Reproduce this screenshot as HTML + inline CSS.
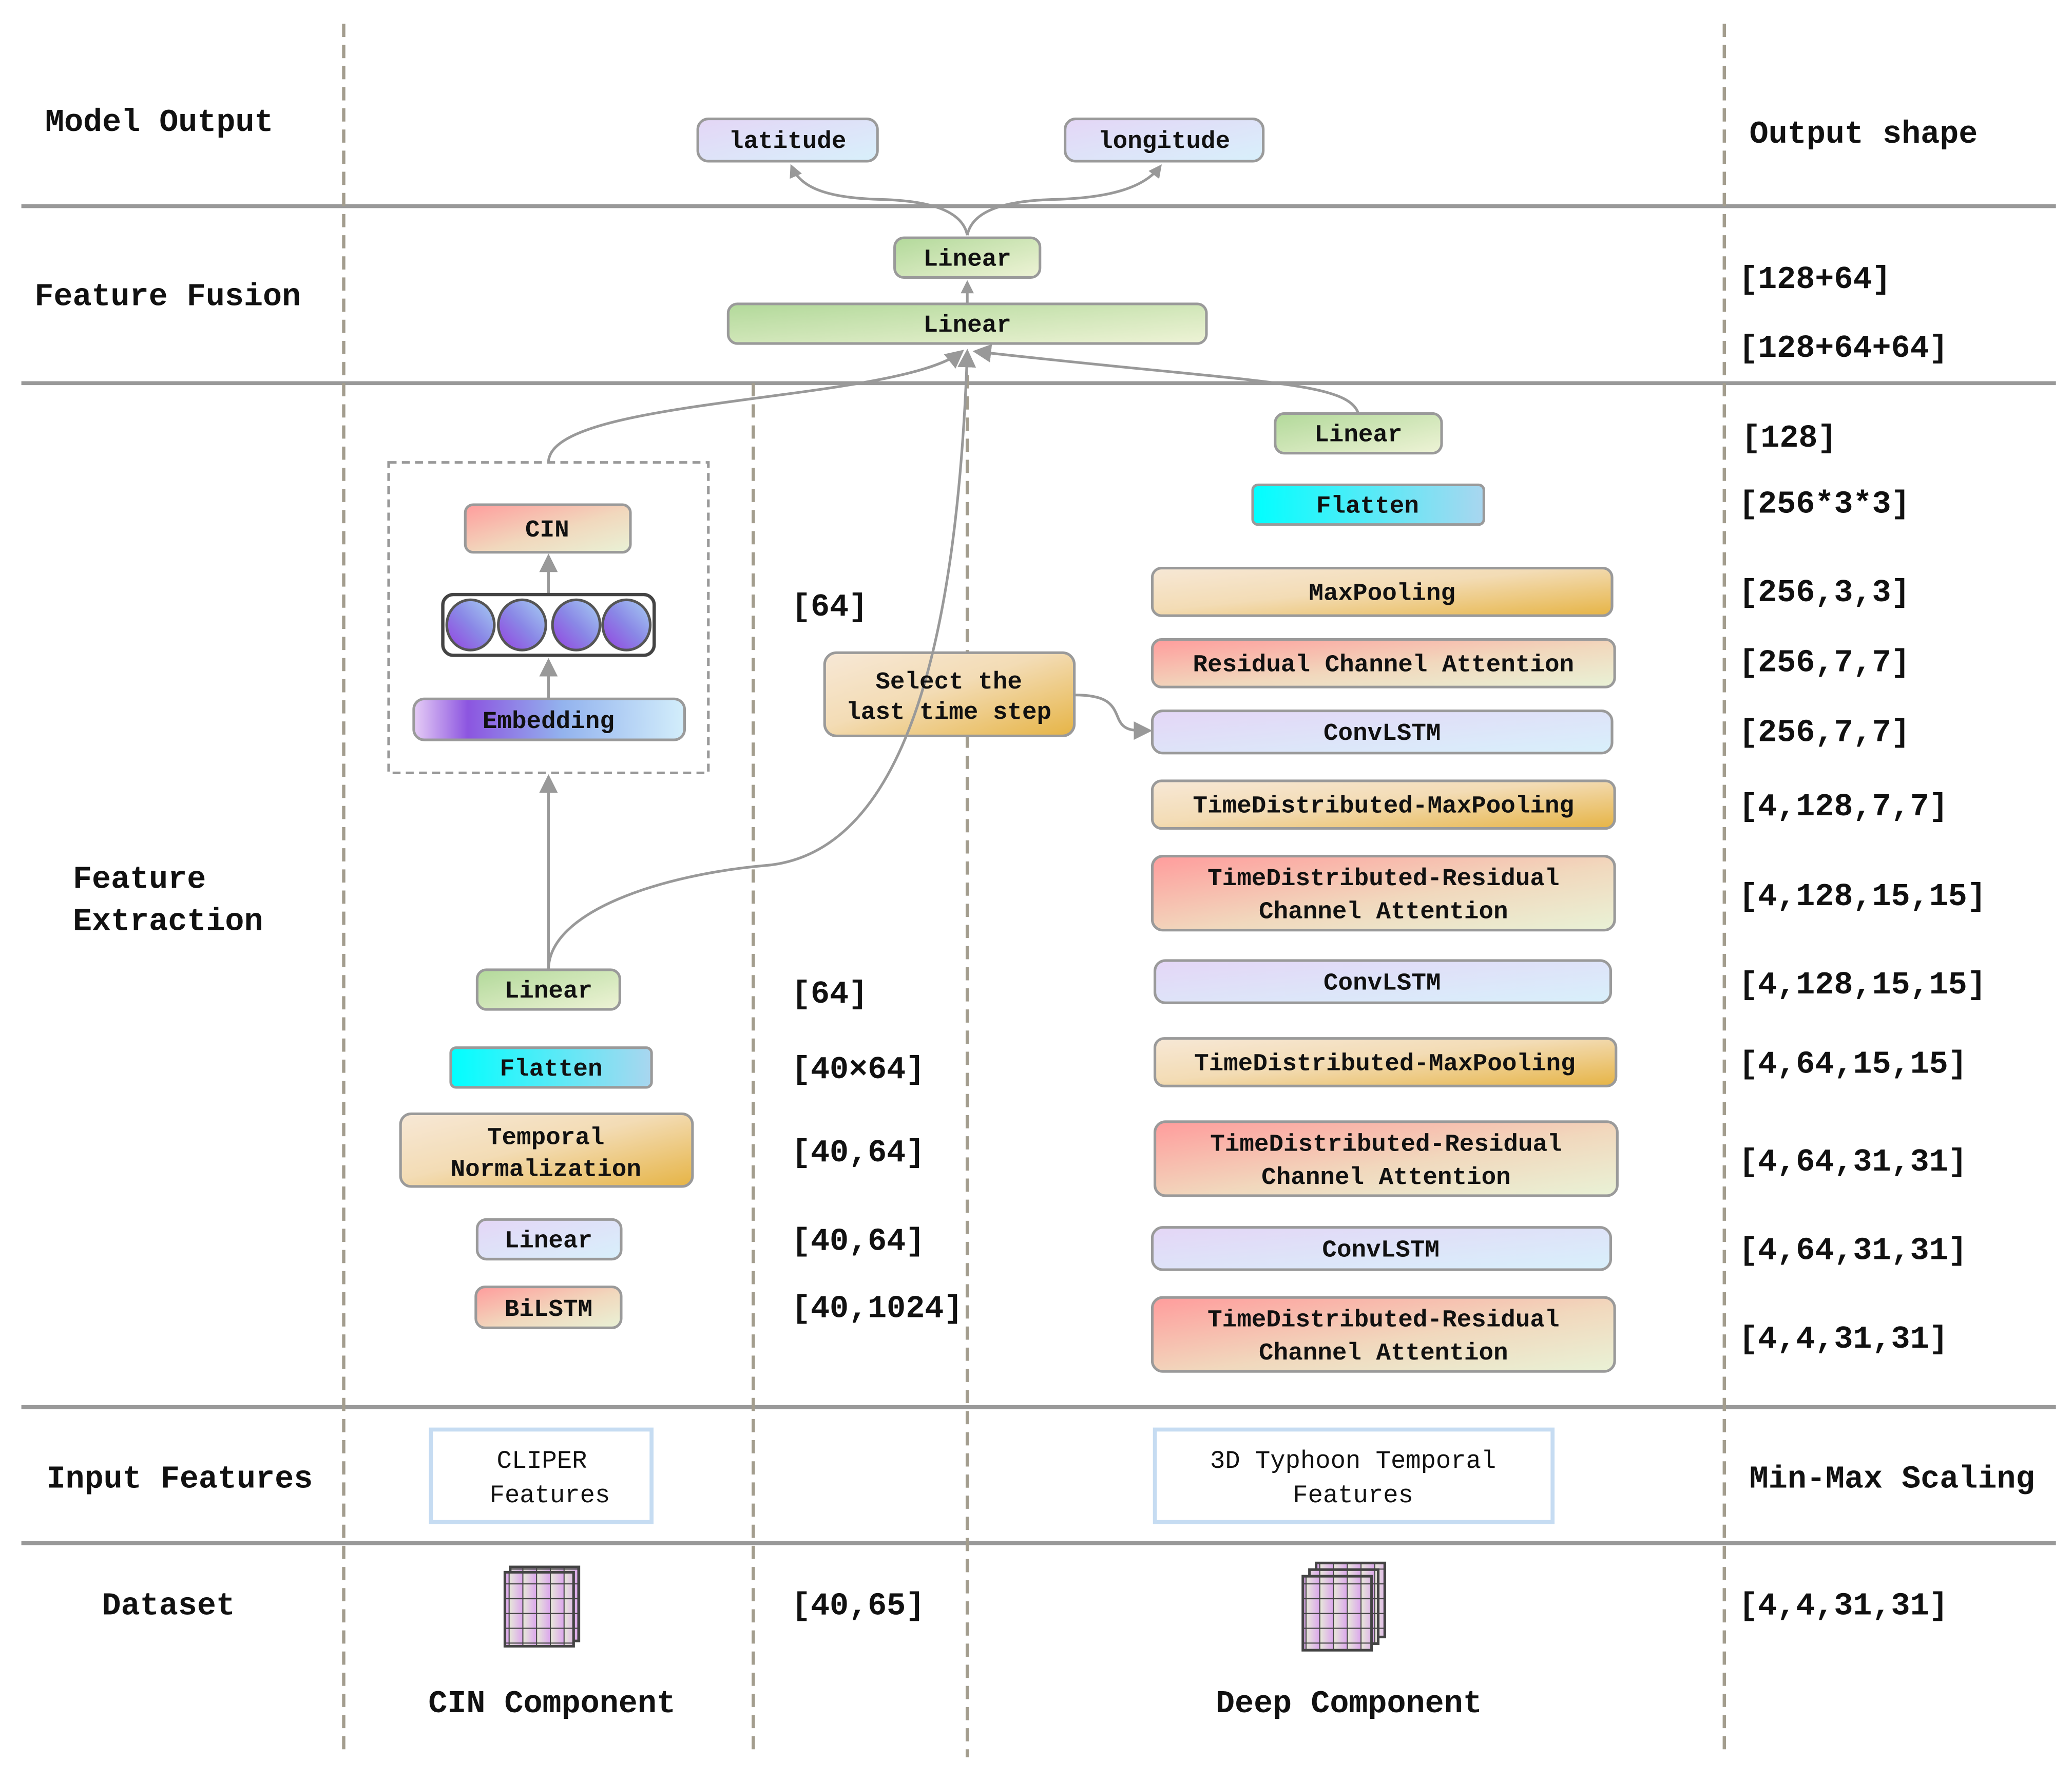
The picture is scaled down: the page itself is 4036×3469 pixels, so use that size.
<!DOCTYPE html>
<html><head><meta charset="utf-8"><style>
html,body{margin:0;padding:0;background:#fff}
svg{display:block}
text{font-family:"Liberation Mono",monospace;font-weight:bold;fill:#111}
.t{font-size:24px}
.b{font-size:18.5px}
.n{font-weight:normal;font-size:19px}
</style></head><body>
<svg width="4036" height="3469" viewBox="0 0 1568 1348" xmlns="http://www.w3.org/2000/svg">
<defs>
<linearGradient id="lav" x1="0" y1="0" x2="1" y2="1"><stop offset="0" stop-color="#e4d6f6"/><stop offset="1" stop-color="#d8f0fb"/></linearGradient>
<linearGradient id="grn" x1="0" y1="0" x2="1" y2="1"><stop offset="0" stop-color="#b2d99a"/><stop offset="1" stop-color="#eef3d6"/></linearGradient>
<linearGradient id="cyan" x1="0" y1="0" x2="1" y2="0"><stop offset="0" stop-color="#00ffff"/><stop offset="1" stop-color="#a9d6ef"/></linearGradient>
<linearGradient id="gold" x1="0" y1="0" x2="1" y2="1"><stop offset="0" stop-color="#f7e8d6"/><stop offset="0.45" stop-color="#f3dcb5"/><stop offset="1" stop-color="#e6b445"/></linearGradient>
<linearGradient id="red" x1="0" y1="0" x2="1" y2="1"><stop offset="0" stop-color="#ff9c9c"/><stop offset="0.55" stop-color="#f1d8bd"/><stop offset="1" stop-color="#e9f2d6"/></linearGradient>
<linearGradient id="emb" x1="0" y1="0" x2="1" y2="0"><stop offset="0" stop-color="#e6cdf6"/><stop offset="0.2" stop-color="#8c55e0"/><stop offset="0.55" stop-color="#93b3ee"/><stop offset="1" stop-color="#d3eefb"/></linearGradient>
<linearGradient id="ball" x1="1" y1="0" x2="0" y2="1"><stop offset="0" stop-color="#a8d0f4"/><stop offset="0.5" stop-color="#8a88e6"/><stop offset="1" stop-color="#9440e0"/></linearGradient>
<linearGradient id="cell" x1="0" y1="0" x2="1" y2="0"><stop offset="0" stop-color="#e8ecd8"/><stop offset="1" stop-color="#dca8ec"/></linearGradient>
<pattern id="grid" width="10.4" height="11.2" patternUnits="userSpaceOnUse"><rect width="10.4" height="11.2" fill="url(#cell)"/><path d="M0 0H10.4M0 0V11.2" stroke="#444" stroke-width="1.6"/></pattern>
<marker id="ah" markerWidth="10" markerHeight="10" refX="8" refY="5" orient="auto" markerUnits="userSpaceOnUse"><path d="M0,0 L10,5 L0,10 z" fill="#999"/></marker>
<marker id="ahb" markerWidth="14" markerHeight="14" refX="12" refY="7" orient="auto" markerUnits="userSpaceOnUse"><path d="M0,0 L14,7 L0,14 z" fill="#999"/></marker>
</defs>

<g stroke="#999" stroke-width="3">
<line x1="16" y1="156" x2="1556" y2="156"/><line x1="16" y1="290" x2="1556" y2="290"/>
<line x1="16" y1="1065" x2="1556" y2="1065"/><line x1="16" y1="1168" x2="1556" y2="1168"/>
</g>
<g stroke="#a39d8e" stroke-width="2.5" stroke-dasharray="10,6">
<line x1="260" y1="18" x2="260" y2="1330"/><line x1="570" y1="290" x2="570" y2="1330"/>
<line x1="732" y1="268" x2="732" y2="1330"/><line x1="1305" y1="18" x2="1305" y2="1330"/>
</g>

<g fill="none" stroke="#999" stroke-width="2">
<path d="M732,178 C728,158 700,152 668,151 C625,150 606,142 599,126" marker-end="url(#ah)"/>
<path d="M732,178 C736,158 764,152 796,151 C840,150 866,142 878,126" marker-end="url(#ah)"/>
<path d="M732,230 L732,214" marker-end="url(#ah)"/>
<path d="M415,350 C415,300 680,305 728,266" marker-end="url(#ahb)"/>
<path d="M1028,313 C1020,288 950,290 738,266" marker-end="url(#ahb)"/>
<path d="M415,734 L415,588" marker-end="url(#ahb)"/>
<path d="M415,529 L415,500" marker-end="url(#ahb)"/>
<path d="M415,450 L415,421" marker-end="url(#ahb)"/>
<path d="M813,526 C838,526 842,533 846,543 C850,553 856,553 870,553" marker-end="url(#ahb)"/>
</g>

<g stroke="#9a9a9a" stroke-width="2">
<rect x="528" y="90" width="136" height="32" rx="8" fill="url(#lav)"/>
<rect x="806" y="90" width="150" height="32" rx="8" fill="url(#lav)"/>
<rect x="677" y="180" width="110" height="30" rx="7" fill="url(#grn)"/>
<rect x="551" y="230" width="362" height="30" rx="7" fill="url(#grn)"/>
<rect x="965" y="313" width="126" height="30" rx="7" fill="url(#grn)"/>
<rect x="948" y="367" width="175" height="30" rx="4" fill="url(#cyan)"/>
<rect x="872" y="430" width="348" height="36" rx="7" fill="url(#gold)"/>
<rect x="872" y="484" width="350" height="36" rx="7" fill="url(#red)"/>
<rect x="872" y="538" width="348" height="32" rx="8" fill="url(#lav)"/>
<rect x="872" y="591" width="350" height="36" rx="7" fill="url(#gold)"/>
<rect x="872" y="648" width="350" height="56" rx="8" fill="url(#red)"/>
<rect x="874" y="727" width="345" height="32" rx="8" fill="url(#lav)"/>
<rect x="874" y="786" width="349" height="36" rx="7" fill="url(#gold)"/>
<rect x="874" y="849" width="350" height="56" rx="8" fill="url(#red)"/>
<rect x="872" y="929" width="347" height="32" rx="8" fill="url(#lav)"/>
<rect x="872" y="982" width="350" height="56" rx="8" fill="url(#red)"/>
<rect x="624" y="494" width="189" height="63" rx="9" fill="url(#gold)"/>
<rect x="352" y="382" width="125" height="36" rx="6" fill="url(#red)"/>
<rect x="313" y="529" width="205" height="31" rx="8" fill="url(#emb)"/>
<rect x="361" y="734" width="108" height="30" rx="7" fill="url(#grn)"/>
<rect x="341" y="793" width="152" height="30" rx="4" fill="url(#cyan)"/>
<rect x="303" y="843" width="221" height="55" rx="8" fill="url(#gold)"/>
<rect x="361" y="923" width="109" height="30" rx="7" fill="url(#lav)"/>
<rect x="360" y="974" width="110" height="31" rx="7" fill="url(#red)"/>
</g>
<rect x="294" y="350" width="242" height="235" fill="none" stroke="#999" stroke-width="2" stroke-dasharray="6,4"/>
<rect x="335" y="450" width="160" height="46" rx="8" fill="#fff" stroke="#444" stroke-width="2.5"/>
<g fill="url(#ball)" stroke="#555" stroke-width="2">
<ellipse cx="356" cy="473" rx="18" ry="19"/><ellipse cx="395" cy="473" rx="18" ry="19"/>
<ellipse cx="436" cy="473" rx="18" ry="19"/><ellipse cx="474" cy="473" rx="18" ry="19"/>
</g>
<rect x="326" y="1082" width="167" height="70" fill="#fff" stroke="#c6dcf2" stroke-width="3"/>
<rect x="874" y="1082" width="301" height="70" fill="#fff" stroke="#c6dcf2" stroke-width="3"/>

<path d="M415,734 C415,690 500,662 580,655 C690,645 725,470 732,266" fill="none" stroke="#999" stroke-width="2" marker-end="url(#ahb)"/>

<g stroke="#444" stroke-width="2">
<rect x="386" y="1186" width="52" height="56" fill="url(#grid)"/>
<rect x="382" y="1190" width="52" height="56" fill="url(#grid)"/>
<rect x="996" y="1183" width="52" height="56" fill="url(#grid)"/>
<rect x="991" y="1188" width="52" height="56" fill="url(#grid)"/>
<rect x="986" y="1193" width="52" height="56" fill="url(#grid)"/>
</g>

<g class="b" text-anchor="middle">
<text x="596" y="112">latitude</text>
<text x="881" y="112">longitude</text>
<text x="732" y="201">Linear</text>
<text x="732" y="251">Linear</text>
<text x="1028" y="334">Linear</text>
<text x="1035" y="388">Flatten</text>
<text x="1046" y="454">MaxPooling</text>
<text x="1047" y="508">Residual Channel Attention</text>
<text x="1046" y="560">ConvLSTM</text>
<text x="1047" y="615">TimeDistributed-MaxPooling</text>
<text x="1047" y="670">TimeDistributed-Residual</text>
<text x="1047" y="695">Channel Attention</text>
<text x="1046" y="749">ConvLSTM</text>
<text x="1048" y="810">TimeDistributed-MaxPooling</text>
<text x="1049" y="871">TimeDistributed-Residual</text>
<text x="1049" y="896">Channel Attention</text>
<text x="1045" y="951">ConvLSTM</text>
<text x="1047" y="1004">TimeDistributed-Residual</text>
<text x="1047" y="1029">Channel Attention</text>
<text x="718" y="521">Select the</text>
<text x="718" y="544">last time step</text>
<text x="414" y="406">CIN</text>
<text x="415" y="551">Embedding</text>
<text x="415" y="755">Linear</text>
<text x="417" y="814">Flatten</text>
<text x="413" y="866">Temporal</text>
<text x="413" y="890">Normalization</text>
<text x="415" y="944">Linear</text>
<text x="415" y="996">BiLSTM</text>
</g>
<g class="n" text-anchor="middle">
<text x="410" y="1111" style="font-weight:normal">CLIPER</text>
<text x="416" y="1137" style="font-weight:normal">Features</text>
<text x="1024" y="1111" style="font-weight:normal">3D Typhoon Temporal</text>
<text x="1024" y="1137" style="font-weight:normal">Features</text>
</g>

<g class="t">
<text x="34" y="99">Model Output</text>
<text x="26" y="231">Feature Fusion</text>
<text x="55" y="672">Feature</text>
<text x="55" y="704">Extraction</text>
<text x="35" y="1126">Input Features</text>
<text x="77" y="1222">Dataset</text>
<text x="1324" y="108">Output shape</text>
<text x="1324" y="1126">Min-Max Scaling</text>
<text x="324" y="1296">CIN Component</text>
<text x="920" y="1296">Deep Component</text>
</g>
<g class="t" style="font-weight:normal">
<text x="1316" y="218">[128+64]</text>
<text x="1316" y="270">[128+64+64]</text>
<text x="1318" y="338">[128]</text>
<text x="1316" y="388">[256*3*3]</text>
<text x="1316" y="455">[256,3,3]</text>
<text x="1316" y="508">[256,7,7]</text>
<text x="1316" y="561">[256,7,7]</text>
<text x="1316" y="617">[4,128,7,7]</text>
<text x="1316" y="685">[4,128,15,15]</text>
<text x="1316" y="752">[4,128,15,15]</text>
<text x="1316" y="812">[4,64,15,15]</text>
<text x="1316" y="886">[4,64,31,31]</text>
<text x="1316" y="953">[4,64,31,31]</text>
<text x="1316" y="1020">[4,4,31,31]</text>
<text x="1316" y="1222">[4,4,31,31]</text>
<text x="599" y="466">[64]</text>
<text x="599" y="759">[64]</text>
<text x="599" y="816">[40×64]</text>
<text x="599" y="879">[40,64]</text>
<text x="599" y="946">[40,64]</text>
<text x="599" y="997">[40,1024]</text>
<text x="599" y="1222">[40,65]</text>
</g>
</svg>
</body></html>
